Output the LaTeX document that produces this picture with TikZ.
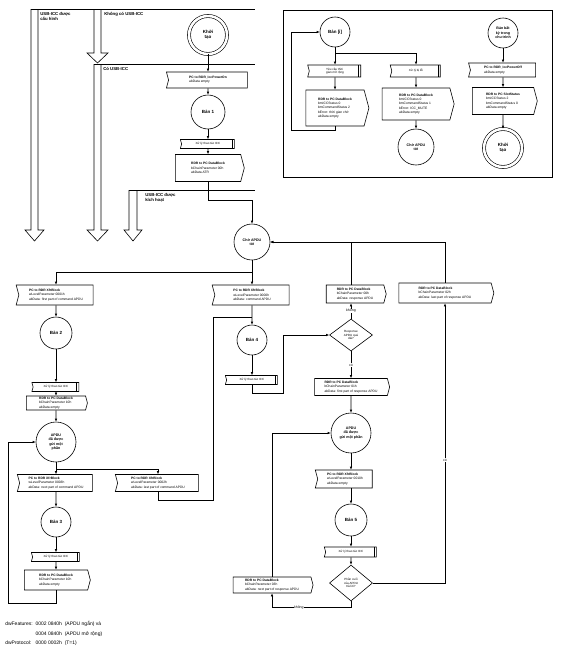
\documentclass[tikz,border=0pt]{standalone}
\usepackage{fontspec}
\setmainfont{Liberation Sans}
\usepackage{tikz}
\usetikzlibrary{shapes.geometric,shapes.symbols,arrows.meta}
\newcommand{\msg}[1]{\textbf{#1}}
\tikzstyle{box} = [draw, signal, signal pointer angle=150, inner sep=1pt, align=left, font=\fontsize{3.3}{4.3}\selectfont]
\tikzstyle{tohost} = [box, signal to=east]
\tikzstyle{todev} = [box, signal to=nowhere, signal from=west]
\tikzstyle{proc} = [todev, font=\fontsize{3}{3.6}\selectfont, path picture={\draw ([xshift=-2.2pt]path picture bounding box.north east) -- ([xshift=-2.2pt]path picture bounding box.south east);}]
\tikzstyle{state} = [draw, circle, inner sep=0pt, align=center, font=\fontsize{4.5}{5}\selectfont\bfseries]
\tikzstyle{small} = [font=\fontsize{3.6}{4.4}\selectfont\bfseries]
\tikzstyle{init} = [state, double, double distance=2.5pt, minimum size=38pt]
\tikzstyle{ask} = [draw, diamond, inner sep=0pt, align=center, font=\fontsize{3}{3.8}\selectfont]
\tikzstyle{arr} = [-{Latex[length=3pt,width=2.5pt]}]
\tikzstyle{lbl} = [font=\fontsize{4.3}{5}\selectfont\bfseries, align=left, anchor=north west, inner sep=0pt]
\tikzstyle{yn} = [fill=white, inner sep=0.5pt, font=\fontsize{3.5}{4}\selectfont]

\begin{document}
\begin{tikzpicture}[x=1pt, y=-1pt, line width=0.6pt]
\useasboundingbox (0,0) rectangle (561,648);

% hollow arrows
\draw (31,9) -- (255,9);
\draw (31,9) -- (31,230) -- (25,230) -- (34.5,241) -- (44,230) -- (38,230) -- (38,9);
\draw (94,9) -- (94,53) -- (87,53) -- (97.5,63) -- (108,53) -- (101,53) -- (101,9);
\draw (94,64) -- (255,64);
\draw (94,64) -- (94,230) -- (87,230) -- (97.5,241) -- (108,230) -- (101,230) -- (101,64);
\draw (129,190) -- (255,190);
\draw (129,190) -- (129,230) -- (124,230) -- (133,241) -- (142,230) -- (137,230) -- (137,190);
\node[lbl] (cfg) at (40,12) {USB-ICC được\\cấu hình};
\node[lbl] (none) at (104,12) {Không có USB-ICC};
\node[lbl] (have) at (103,67) {Có USB-ICC};
\node[lbl] (act) at (145,193) {USB-ICC được\\kích hoạt};

% main column
\node[init] (start) at (208,35) {Khởi\\tạo};
\node[todev, minimum width=81pt, minimum height=16pt] (pon) at (208,80) {\msg{PC to RDR\_IccPowerOn}\\abData empty};
\node[state, minimum size=34pt] (s1) at (208,112) {Bản 1};
\node[proc, minimum width=54pt, minimum height=9pt] (p1) at (208,144) {Xử lý thao tác ICC};
\node[tohost, minimum width=69pt, minimum height=27pt] (atr) at (208,168) {\msg{RDR to PC DataBlock}\\bChainParameter 00h\\abData ATR};
\node[state, small, minimum size=36pt] (wait) at (252,242) {Chờ APDU\\tới};

% left column
\node[todev, minimum width=77pt, minimum height=20pt] (x1) at (56,295) {\msg{PC to RDR XfrBlock}\\wLevelParameter 0001h\\abData: first part of command APDU};
\node[state, minimum size=32pt] (s2) at (56,333) {Bản 2};
\node[proc, minimum width=47pt, minimum height=9pt] (p2) at (56,387) {Xử lý thao tác ICC};
\node[tohost, minimum width=61pt, minimum height=14pt] (b2) at (56,403) {\msg{RDR to PC DataBlock}\\bChainParameter 10h\\abData empty};
\node[state, small, minimum size=40pt] (part1) at (56,442) {APDU\\đã được\\gửi một\\phần};
\node[todev, minimum width=75pt, minimum height=17pt] (x3) at (56,483) {\msg{PC to RDR XfrBlock}\\wLevelParameter 0003h\\abData: next part of command APDU};
\node[todev, minimum width=83pt, minimum height=17pt] (x4) at (158,483) {\msg{PC to RDR XfrBlock}\\wLevelParameter 0002h\\abData: last part of command APDU};
\node[state, minimum size=30pt] (s3) at (56,522) {Bản 3};
\node[proc, minimum width=48pt, minimum height=9pt] (p3) at (56,557) {Xử lý thao tác ICC};
\node[tohost, minimum width=66pt, minimum height=20pt] (b3) at (56,580) {\msg{RDR to PC DataBlock}\\bChainParameter 10h\\abData empty};

% centre column
\node[todev, minimum width=77pt, minimum height=20pt] (x0) at (252,295) {\msg{PC to RDR XfrBlock}\\wLevelParameter 0000h\\abData: command APDU};
\coordinate (m4) at (252,317);
\node[state, minimum size=30pt] (s4) at (252,340) {Bản 4};
\node[proc, minimum width=52pt, minimum height=9pt] (p4) at (252,380) {Xử lý thao tác ICC};
\coordinate (c4) at (283,393);

% right columns
\node[tohost, minimum width=60pt, minimum height=18pt] (r0) at (355,294) {\msg{RDR to PC DataBlock}\\bChainParameter 00h\\abData: response APDU};
\node[ask, minimum width=43pt, minimum height=32pt] (q1) at (351,335) {Response\\APDU quá\\dài?};
\node[tohost, minimum width=75pt, minimum height=17pt] (r1) at (351,387) {\msg{RDR to PC DataBlock}\\bChainParameter 01h\\abData: first part of response APDU};
\node[state, small, minimum size=40pt] (part2) at (351,433) {APDU\\đã được\\gửi một phần};
\node[todev, minimum width=57pt, minimum height=18pt] (x5) at (345,479) {\msg{PC to RDR XfrBlock}\\wLevelParameter 0010h\\abData empty};
\node[state, minimum size=32pt] (s5) at (351,520) {Bản 5};
\node[proc, minimum width=52pt, minimum height=10pt] (p5) at (351,552) {Xử lý thao tác ICC};
\node[ask, minimum width=43pt, minimum height=36pt] (q2) at (351,583) {Phần cuối\\của APDU\\trả lời?};
\node[tohost, minimum width=80pt, minimum height=16pt] (r3) at (272,585) {\msg{RDR to PC DataBlock}\\bChainParameter 03h\\abData: next part of response APDU};
\node[tohost, minimum width=95pt, minimum height=20pt] (r2) at (445,293) {\msg{RDR to PC DataBlock}\\bChainParameter 02h\\abData: last part of response APDU};
\coordinate (k1) at (8,603);
\coordinate (k3) at (213,500);

\draw[arr] (start) -- (pon);
\draw[arr] (pon) -- (s1);
\draw[arr] (s1) -- (p1);
\draw[arr] (p1) -- (atr);
\draw[arr] (atr.south) -- ++(0,18) -| (wait.north);
\draw[arr] (wait) -- (x0);
\draw[arr] ([yshift=-12pt]wait.south) -| (x1.north);

\draw[arr] (x1) -- (s2);
\draw[arr] (s2) -- (p2);
\draw[arr] (p2) -- (b2);
\draw[arr] (b2) -- (part1);
\draw[arr] (part1) -- (x3);
\draw[arr] ([yshift=-7pt]part1.south) -| (x4.north);
\draw[arr] (x3) -- (s3);
\draw[arr] (s3) -- (p3);
\draw[arr] (p3) -- (b3);
\draw[arr] (b3.south) |- (k1) |- (part1.west);
\draw (x4.south) |- (k3) |- (m4);

\draw[arr] (x0) -- (s4);
\draw[arr] (s4) -- (p4);
\draw[arr] (p4.south) |- (c4) |- (q1.west);
\draw[arr] (q1) -- node[yn]{không} (q1 |- r0.south);
\draw[arr] (q1 |- r0.north) |- (wait.east);
\draw[arr] (q1) -- node[yn]{có} (r1);
\draw[arr] (r1) -- (part2);
\draw[arr] (part2) -- (part2 |- x5.north);
\draw[arr] (s5 |- x5.south) -- (s5);
\draw[arr] (s5) -- (p5);
\draw[arr] (p5) -- (q2);
\draw[arr] (q2.east) -| node[pos=0.72, yn]{có} (r2.south);
\draw[arr] (r2.north) |- (wait.east);
\draw[arr] (q2.south) -- ([yshift=-6pt]q2.south) -| node[pos=0.33, yn]{không} (r3.south);
\draw[arr] (r3.north) |- (part2.west);

% inset
\draw (283,10) rectangle (552,177);
\node[state, minimum size=30pt] (si) at (335,32) {Bản [i]};
\node[proc, minimum width=53pt, minimum height=12pt] (pi1) at (335,71) {Yêu cầu thời\\gian mở rộng};
\node[tohost, minimum width=63pt, minimum height=36pt] (bi1) at (335,108) {\msg{RDR to PC DataBlock}\\bmICCStatus 0\\bmCommandStatus 2\\bError: thời gian chờ\\abData empty};
\node[proc, minimum width=50pt, minimum height=12pt] (pi2) at (416,71) {Xử lý bị lỗi};
\node[tohost, minimum width=72pt, minimum height=32pt] (bi2) at (416,104) {\msg{RDR to PC DataBlock}\\bmICCStatus 0\\bmCommandStatus 1\\bError: ICC\_MUTE\\abData empty};
\node[state, small, minimum size=36pt] (wi) at (416,147) {Chờ APDU\\tới};
\node[state, small, minimum size=30pt] (sx) at (503,33) {Bản bất\\kỳ trong\\chu trình};
\node[todev, minimum width=67pt, minimum height=14pt] (offi) at (503,70) {\msg{PC to RDR\_IccPowerOff}\\abData empty};
\node[tohost, minimum width=65pt, minimum height=27pt] (sloti) at (503,101) {\msg{RDR to PC SlotStatus}\\bmICCStatus 2\\bmCommandStatus 0\\abData empty};
\node[init] (endi) at (503,148) {Khởi\\tạo};

\draw[arr] (si) -- (pi1);
\draw[arr] ([yshift=-6pt]si.south) -| (pi2.north);
\draw[arr] (pi1) -- (bi1);
\draw[arr] (bi1.south) -- ++(0,4) -| ([xshift=-28pt]si.west) -- (si.west);
\draw[arr] (pi2) -- (bi2);
\draw[arr] (bi2) -- (wi);
\draw[arr] (sx) -- (offi);
\draw[arr] (offi) -- (sloti);
\draw[arr] (sloti) -- (endi);

% legend
\node[anchor=north west, inner sep=0pt, font=\fontsize{5}{9.5}\selectfont] (note) at (5,619) {\begin{tabular}{@{}l@{\ \ }l@{\ \ }l@{}}dwFeatures: & 0002 0840h & (APDU ngắn) và\\ & 0004 0840h & (APDU mở rộng)\\dwProtocol: & 0000 0002h & (T=1)\end{tabular}};
\end{tikzpicture}
\end{document}
